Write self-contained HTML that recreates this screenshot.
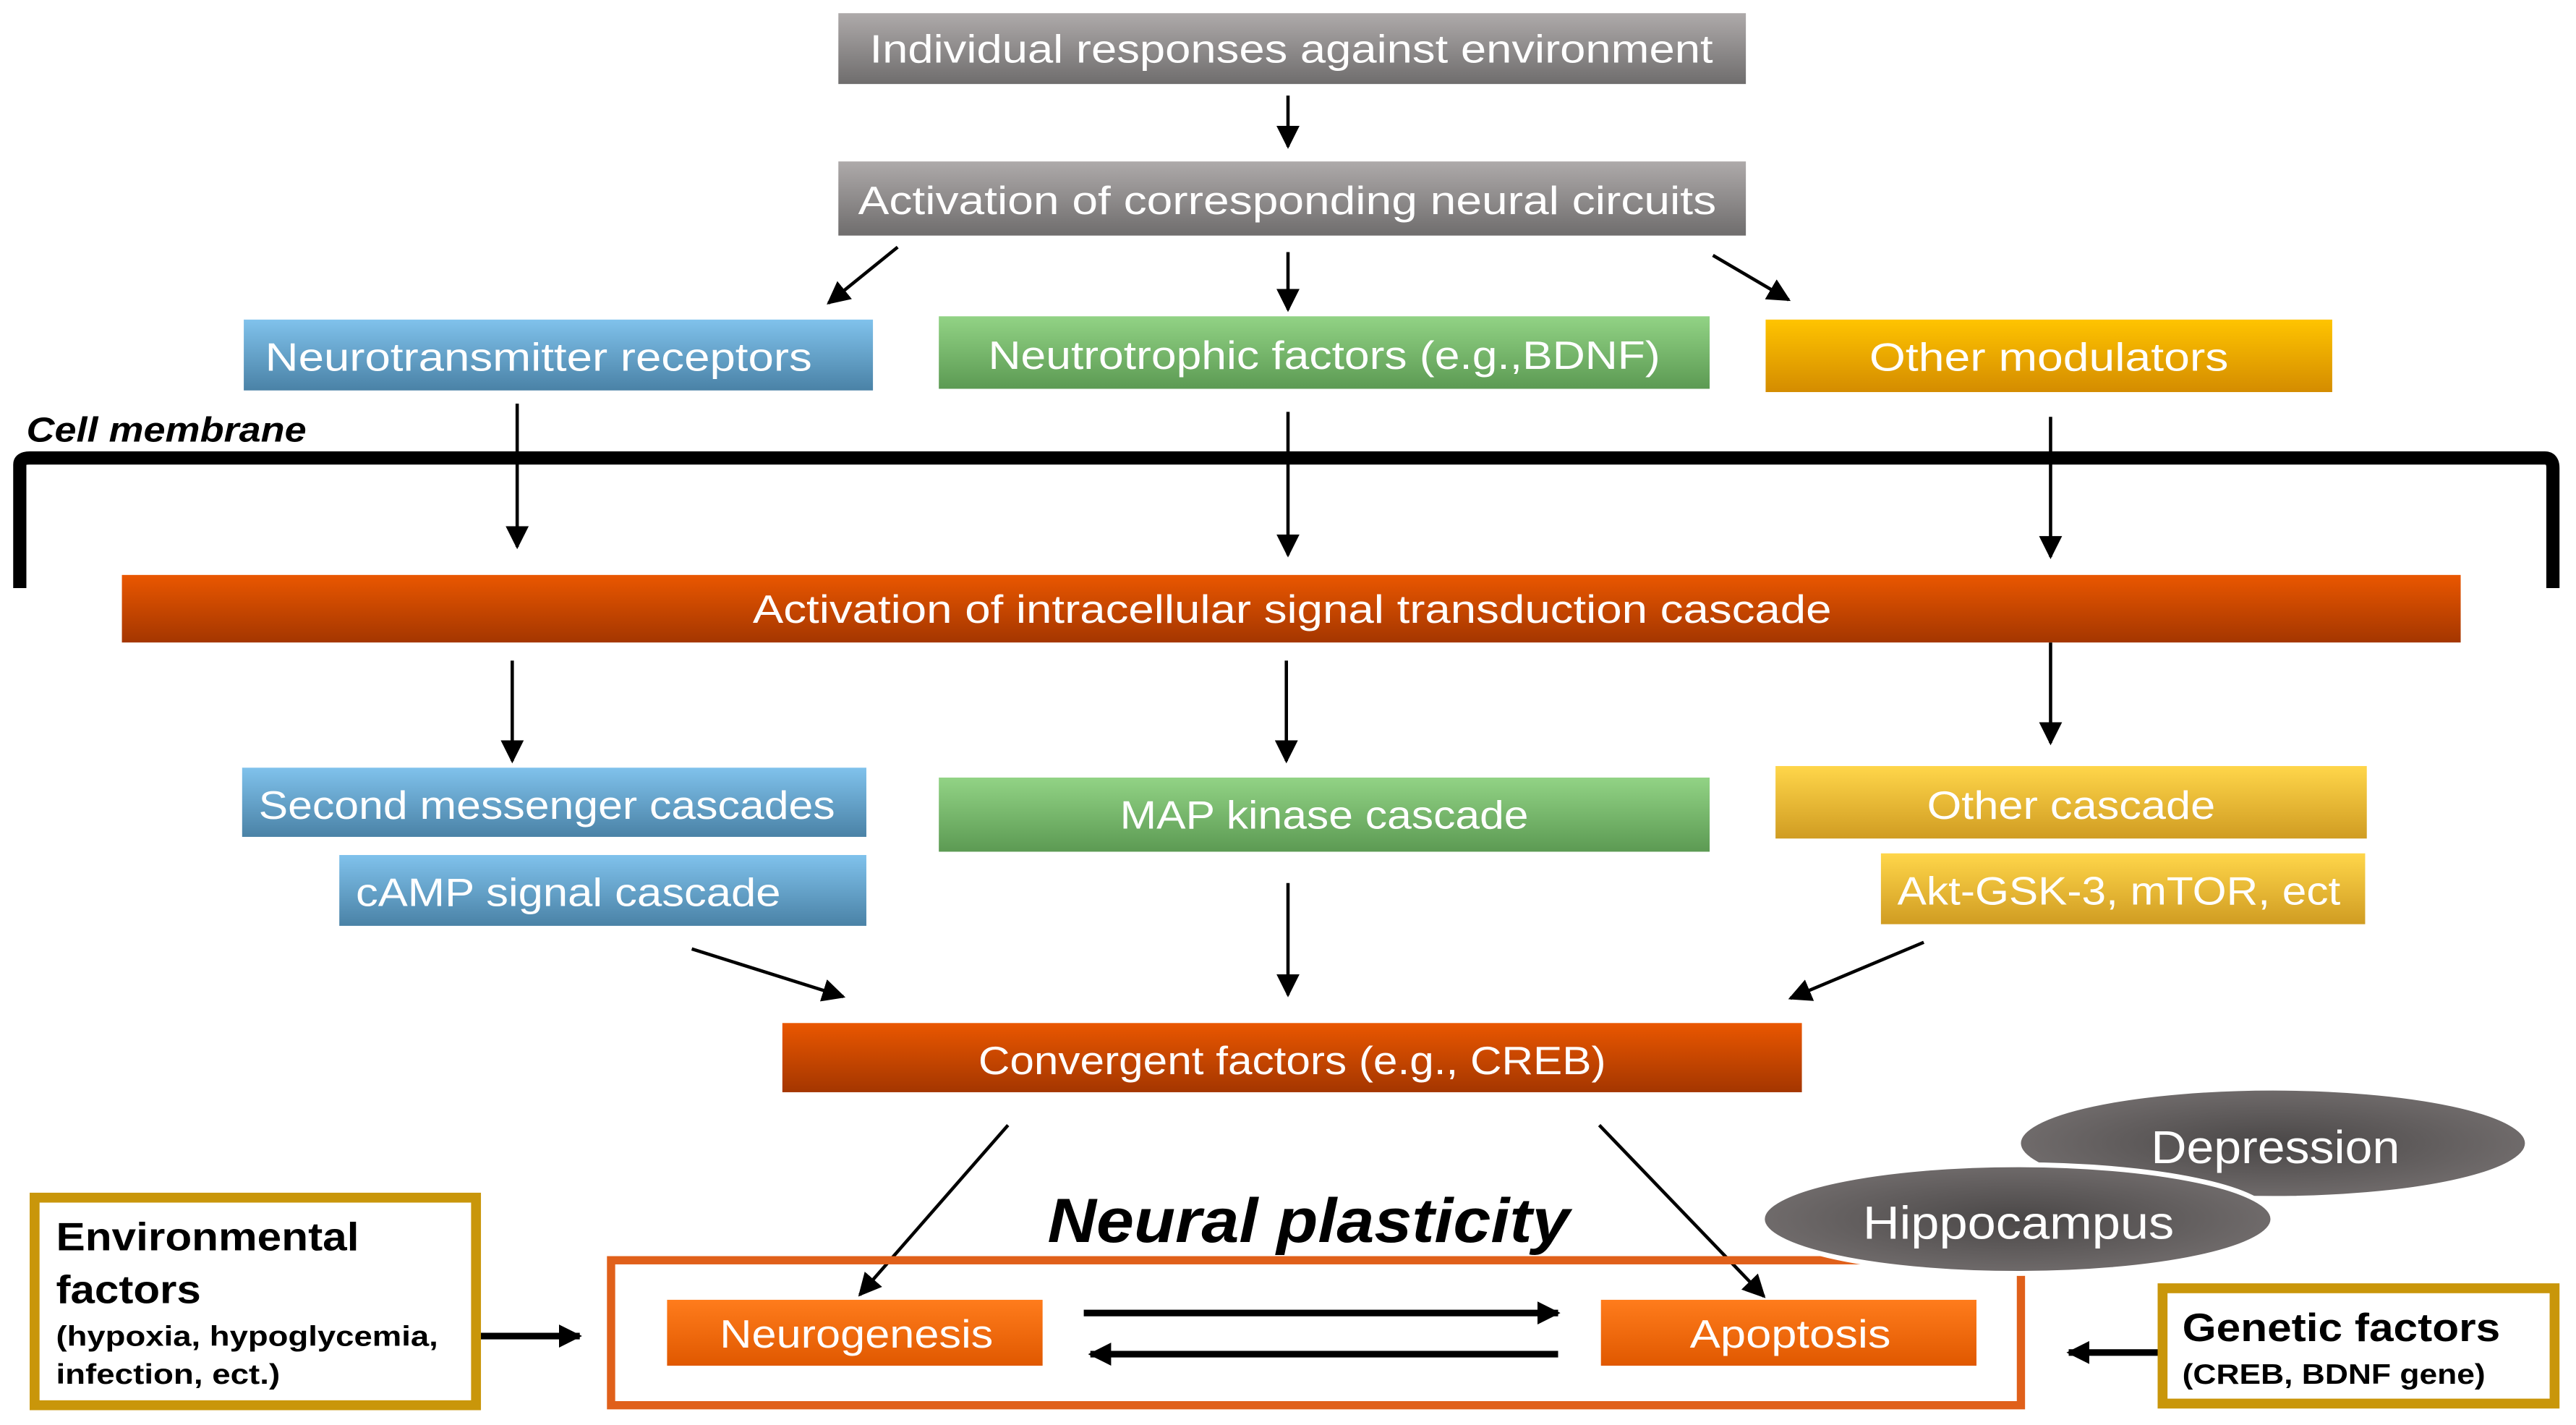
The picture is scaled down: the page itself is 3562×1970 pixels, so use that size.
<!DOCTYPE html>
<html><head><meta charset="utf-8"><style>html,body{margin:0;padding:0;background:#fff}svg{display:block}</style></head>
<body>
<svg width="3562" height="1970" viewBox="0 0 1564 865" xmlns="http://www.w3.org/2000/svg" font-family="Liberation Sans, sans-serif">
<defs>
<linearGradient id="gray" x1="0" y1="0" x2="0" y2="1"><stop offset="0" stop-color="#aeaaaa"/><stop offset="1" stop-color="#6f6d6d"/></linearGradient>
<linearGradient id="blue" x1="0" y1="0" x2="0" y2="1"><stop offset="0" stop-color="#80c2ec"/><stop offset="1" stop-color="#4a82a6"/></linearGradient>
<linearGradient id="green" x1="0" y1="0" x2="0" y2="1"><stop offset="0" stop-color="#92d385"/><stop offset="1" stop-color="#5c9a53"/></linearGradient>
<linearGradient id="orange" x1="0" y1="0" x2="0" y2="1"><stop offset="0" stop-color="#ffc400"/><stop offset="1" stop-color="#d48c00"/></linearGradient>
<linearGradient id="yellow" x1="0" y1="0" x2="0" y2="1"><stop offset="0" stop-color="#ffd64a"/><stop offset="1" stop-color="#d09c22"/></linearGradient>
<linearGradient id="red" x1="0" y1="0" x2="0" y2="1"><stop offset="0" stop-color="#ea5700"/><stop offset="1" stop-color="#a43600"/></linearGradient>
<linearGradient id="org2" x1="0" y1="0" x2="0" y2="1"><stop offset="0" stop-color="#ff7c1c"/><stop offset="1" stop-color="#e05800"/></linearGradient>
<radialGradient id="ell" cx="0.5" cy="0.5" r="0.6"><stop offset="0" stop-color="#4a4747"/><stop offset="1" stop-color="#777272"/></radialGradient>
<marker id="ah" viewBox="0 0 10 10" refX="9" refY="5" markerWidth="5" markerHeight="5" orient="auto-start-reverse" markerUnits="userSpaceOnUse"><path d="M0,0 L10,5 L0,10 z" fill="#000"/></marker>
<marker id="ah2" viewBox="0 0 10 10" refX="9" refY="5" markerWidth="14" markerHeight="14" orient="auto" markerUnits="userSpaceOnUse"><path d="M0,0 L10,5 L0,10 z" fill="#000"/></marker>
</defs>

<g fill="#fff" font-size="24">
<rect x="509" y="8" width="551" height="43" fill="url(#gray)"/>
<text x="528" y="38" textLength="512" lengthAdjust="spacingAndGlyphs">Individual responses against environment</text>
<rect x="509" y="98" width="551" height="45" fill="url(#gray)"/>
<text x="521" y="130" textLength="521" lengthAdjust="spacingAndGlyphs">Activation of corresponding neural circuits</text>
<rect x="148" y="194" width="382" height="43" fill="url(#blue)"/>
<text x="161" y="225" textLength="332" lengthAdjust="spacingAndGlyphs">Neurotransmitter receptors</text>
<rect x="570" y="192" width="468" height="44" fill="url(#green)"/>
<text x="600" y="224" textLength="408" lengthAdjust="spacingAndGlyphs">Neutrotrophic factors (e.g.,BDNF)</text>
<rect x="1072" y="194" width="344" height="44" fill="url(#orange)"/>
<text x="1135" y="225" textLength="218" lengthAdjust="spacingAndGlyphs">Other modulators</text>
<rect x="74" y="349" width="1420" height="41" fill="url(#red)"/>
<text x="457" y="378" textLength="655" lengthAdjust="spacingAndGlyphs">Activation of intracellular signal transduction cascade</text>
<rect x="147" y="466" width="379" height="42" fill="url(#blue)"/>
<text x="157" y="497" textLength="350" lengthAdjust="spacingAndGlyphs">Second messenger cascades</text>
<rect x="206" y="519" width="320" height="43" fill="url(#blue)"/>
<text x="216" y="550" textLength="258" lengthAdjust="spacingAndGlyphs">cAMP signal cascade</text>
<rect x="570" y="472" width="468" height="45" fill="url(#green)"/>
<text x="680" y="503" textLength="248" lengthAdjust="spacingAndGlyphs">MAP kinase cascade</text>
<rect x="1078" y="465" width="359" height="44" fill="url(#yellow)"/>
<text x="1170" y="497" textLength="175" lengthAdjust="spacingAndGlyphs">Other cascade</text>
<rect x="1142" y="518" width="294" height="43" fill="url(#yellow)"/>
<text x="1152" y="549" textLength="269" lengthAdjust="spacingAndGlyphs">Akt-GSK-3, mTOR, ect</text>
<rect x="475" y="621" width="619" height="42" fill="url(#red)"/>
<text x="594" y="652" textLength="381" lengthAdjust="spacingAndGlyphs">Convergent factors (e.g., CREB)</text>
</g>

<text x="16" y="268" font-size="21" font-weight="bold" font-style="italic" textLength="170" lengthAdjust="spacingAndGlyphs">Cell membrane</text>
<path d="M12,357 L12,282 Q12,278 18,278 L1545,278 Q1550,278 1550,284 L1550,357" fill="none" stroke="#000" stroke-width="8"/>

<g stroke="#000" stroke-width="2" fill="none" marker-end="url(#ah2)">
<line x1="782" y1="58" x2="782" y2="89"/>
<line x1="545" y1="150" x2="503" y2="184"/>
<line x1="782" y1="153" x2="782" y2="188"/>
<line x1="1040" y1="155" x2="1086" y2="182"/>
<line x1="314" y1="245" x2="314" y2="332"/>
<line x1="782" y1="250" x2="782" y2="337"/>
<line x1="1245" y1="253" x2="1245" y2="338"/>
<line x1="311" y1="401" x2="311" y2="462"/>
<line x1="781" y1="401" x2="781" y2="462"/>
<line x1="1245" y1="390" x2="1245" y2="451"/>
<line x1="420" y1="576" x2="512" y2="605"/>
<line x1="782" y1="536" x2="782" y2="604"/>
<line x1="1168" y1="572" x2="1087" y2="606"/>
<line x1="612" y1="683" x2="522" y2="786"/>
<line x1="971" y1="683" x2="1071" y2="787"/>
</g>

<rect x="371" y="765" width="856" height="88" fill="none" stroke="#e0601a" stroke-width="5"/>
<ellipse cx="1380" cy="694" rx="154" ry="33" fill="url(#ell)" stroke="#fff" stroke-width="2"/>
<ellipse cx="1225" cy="740" rx="155" ry="33" fill="url(#ell)" stroke="#fff" stroke-width="3"/>
<text x="1306" y="706" font-size="28" fill="#fff" textLength="151" lengthAdjust="spacingAndGlyphs">Depression</text>
<text x="1131" y="752" font-size="28" fill="#fff" textLength="189" lengthAdjust="spacingAndGlyphs">Hippocampus</text>
<text x="636" y="754" font-size="38" font-weight="bold" font-style="italic" textLength="317" lengthAdjust="spacingAndGlyphs">Neural plasticity</text>

<rect x="405" y="789" width="228" height="40" fill="url(#org2)"/>
<text x="437" y="818" font-size="24" fill="#fff" textLength="166" lengthAdjust="spacingAndGlyphs">Neurogenesis</text>
<rect x="972" y="789" width="228" height="40" fill="url(#org2)"/>
<text x="1026" y="818" font-size="24" fill="#fff" textLength="122" lengthAdjust="spacingAndGlyphs">Apoptosis</text>

<g stroke="#000" stroke-width="4" fill="none" marker-end="url(#ah2)">
<line x1="658" y1="797" x2="946" y2="797"/>
<line x1="946" y1="822" x2="662" y2="822"/>
<line x1="290" y1="811" x2="352" y2="811"/>
<line x1="1312" y1="821" x2="1256" y2="821"/>
</g>

<rect x="21" y="727" width="268" height="126" fill="#fff" stroke="#c9960a" stroke-width="6"/>
<g font-weight="bold" fill="#000">
<text x="34" y="759" font-size="24" textLength="184" lengthAdjust="spacingAndGlyphs">Environmental</text>
<text x="34" y="791" font-size="24" textLength="88" lengthAdjust="spacingAndGlyphs">factors</text>
<text x="34" y="817" font-size="17" textLength="232" lengthAdjust="spacingAndGlyphs">(hypoxia, hypoglycemia,</text>
<text x="34" y="840" font-size="17" textLength="136" lengthAdjust="spacingAndGlyphs">infection, ect.)</text>
</g>
<rect x="1313" y="782" width="238" height="70" fill="#fff" stroke="#c9960a" stroke-width="6"/>
<g font-weight="bold" fill="#000">
<text x="1325" y="814" font-size="24" textLength="193" lengthAdjust="spacingAndGlyphs">Genetic factors</text>
<text x="1325" y="840" font-size="17" textLength="184" lengthAdjust="spacingAndGlyphs">(CREB, BDNF gene)</text>
</g>
</svg>
</body></html>
